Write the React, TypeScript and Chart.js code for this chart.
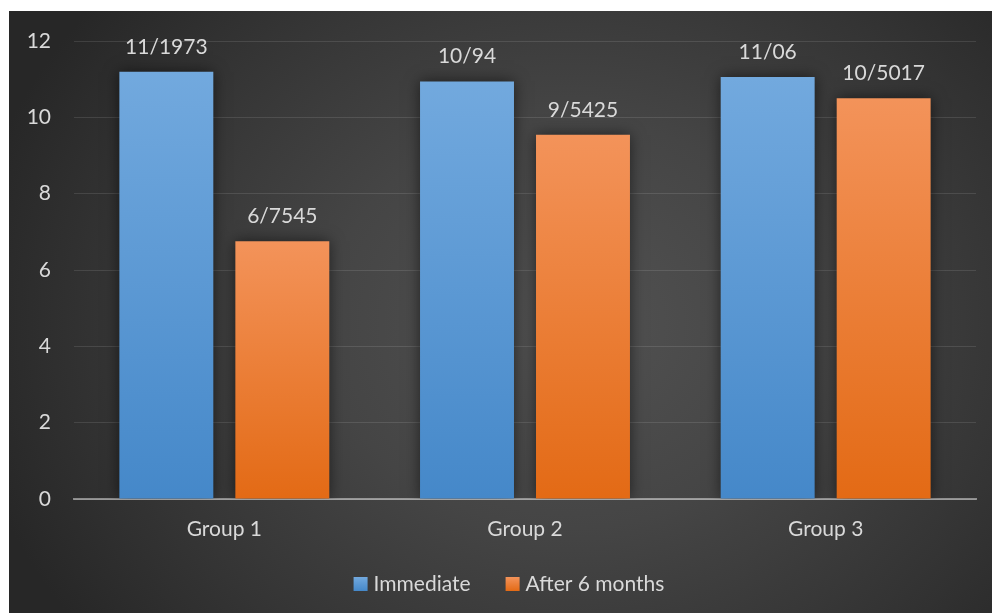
import { useEffect, useRef } from "react";
import { Chart, registerables } from "chart.js";

Chart.register(...registerables);

// ---- data ----
const categories = ["Group 1", "Group 2", "Group 3"];
const seriesNames = ["Immediate", "After 6 months"];
const immediateValues = [11.1973, 10.94, 11.06];
const after6Values = [6.7545, 9.5425, 10.5017];
const yMin = 0;
const yMax = 12;
const yStep = 2;

// ---- style ----
const FONT = "Lato, 'Open Sans', sans-serif";
const FONT_SIZE = 21;
const TEXT = "#D9D9D9";
const blueStops = ["#72A9DE", "#4588C9"];
const orangeStops = ["#F3935A", "#E36A15"];
const W = 983;
const H = 602;

function gradientFor(stops: string[]) {
  return (c: any) => {
    const chart = c.chart;
    const ys = chart.scales && chart.scales.y;
    if (!ys || c.raw === undefined || !chart.chartArea) return stops[0];
    const top = ys.getPixelForValue(c.raw);
    const base = ys.getPixelForValue(0);
    const g = chart.ctx.createLinearGradient(0, top, 0, base);
    g.addColorStop(0, stops[0]);
    g.addColorStop(1, stops[1]);
    return g;
  };
}

const barEffects = {
  id: "barEffects",
  beforeDatasetsDraw(chart: any) {
    const ctx = chart.ctx;
    ctx.save();
    ctx.shadowColor = "rgba(0,0,0,0.55)";
    ctx.shadowBlur = 14;
    ctx.shadowOffsetX = 0;
    ctx.shadowOffsetY = 0;
  },
  afterDatasetsDraw(chart: any) {
    const ctx = chart.ctx;
    ctx.restore();
    ctx.save();
    ctx.font = `${FONT_SIZE}px ${FONT}`;
    ctx.fillStyle = TEXT;
    ctx.textAlign = "center";
    ctx.textBaseline = "alphabetic";
    chart.data.datasets.forEach((ds: any, i: number) => {
      chart.getDatasetMeta(i).data.forEach((el: any, j: number) => {
        const v = ds.data[j];
        ctx.fillText(String(v).replace(".", "/"), el.x, el.y - 18);
      });
    });
    ctx.restore();
  },
};

const LEGEND_CX = 500;
const LEGEND_CY = 573;

const customLegend = {
  id: "customLegend",
  afterDraw(chart: any) {
    const ctx = chart.ctx;
    ctx.save();
    ctx.font = `${FONT_SIZE}px ${FONT}`;
    const box = 14;
    const gapText = 6;
    const gapItem = 35;
    const items = chart.data.datasets.map((ds: any) => ({
      label: ds.label,
      stops: ds.legendStops,
      w: ctx.measureText(ds.label).width,
    }));
    const total =
      items.reduce((s: number, it: any) => s + box + gapText + it.w, 0) +
      gapItem * (items.length - 1);
    let x = LEGEND_CX - total / 2;
    ctx.textBaseline = "middle";
    ctx.textAlign = "left";
    items.forEach((it: any) => {
      const g = ctx.createLinearGradient(0, LEGEND_CY - box / 2, 0, LEGEND_CY + box / 2);
      g.addColorStop(0, it.stops[0]);
      g.addColorStop(1, it.stops[1]);
      ctx.fillStyle = g;
      ctx.fillRect(x, LEGEND_CY - box / 2, box, box);
      x += box + gapText;
      ctx.fillStyle = TEXT;
      ctx.fillText(it.label, x, LEGEND_CY);
      x += it.w + gapItem;
    });
    ctx.restore();
  },
};

export default function App() {
  const ref = useRef<HTMLCanvasElement | null>(null);

  useEffect(() => {
    if (!ref.current) return;
    const chart = new Chart(ref.current, {
      type: "bar",
      data: {
        labels: categories,
        datasets: [
          {
            label: seriesNames[0],
            data: immediateValues,
            backgroundColor: gradientFor(blueStops),
            legendStops: blueStops,
            categoryPercentage: 0.7715,
            barPercentage: 0.81,
          } as any,
          {
            label: seriesNames[1],
            data: after6Values,
            backgroundColor: gradientFor(orangeStops),
            legendStops: orangeStops,
            categoryPercentage: 0.7715,
            barPercentage: 0.81,
          } as any,
        ],
      },
      options: {
        responsive: false,
        animation: false,
        layout: { padding: { top: 30, right: 16, left: 0, bottom: 0 } },
        plugins: {
          legend: { display: false },
          tooltip: { enabled: false },
        },
        scales: {
          x: {
            z: 1,
            grid: { display: false, drawTicks: false },
            border: { display: true, color: "rgba(255,255,255,0.45)", width: 2 },
            ticks: {
              color: TEXT,
              font: { family: FONT, size: FONT_SIZE },
              padding: 18,
            },
            afterFit(s: any) {
              s.height = 114;
            },
          },
          y: {
            min: yMin,
            max: yMax,
            grid: {
              color: "rgba(255,255,255,0.11)",
              lineWidth: 1,
              drawTicks: true,
              tickLength: 23,
              tickColor: "rgba(0,0,0,0)",
            },
            border: { display: false },
            ticks: {
              stepSize: yStep,
              color: TEXT,
              font: { family: FONT, size: FONT_SIZE },
              padding: 0,
            },
            afterFit(s: any) {
              s.width = 65;
            },
          },
        },
      },
      plugins: [barEffects, customLegend],
    });
    return () => chart.destroy();
  }, []);

  return (
    <div
      style={{
        position: "absolute",
        left: 9,
        top: 11,
        width: W,
        height: H,
        background:
          "radial-gradient(ellipse 62% 85% at 57% 52%, #525252 0%, #454545 40%, #343434 75%, #272727 100%)",
      }}
    >
      <canvas ref={ref} width={W} height={H} style={{ display: "block" }} />
    </div>
  );
}
